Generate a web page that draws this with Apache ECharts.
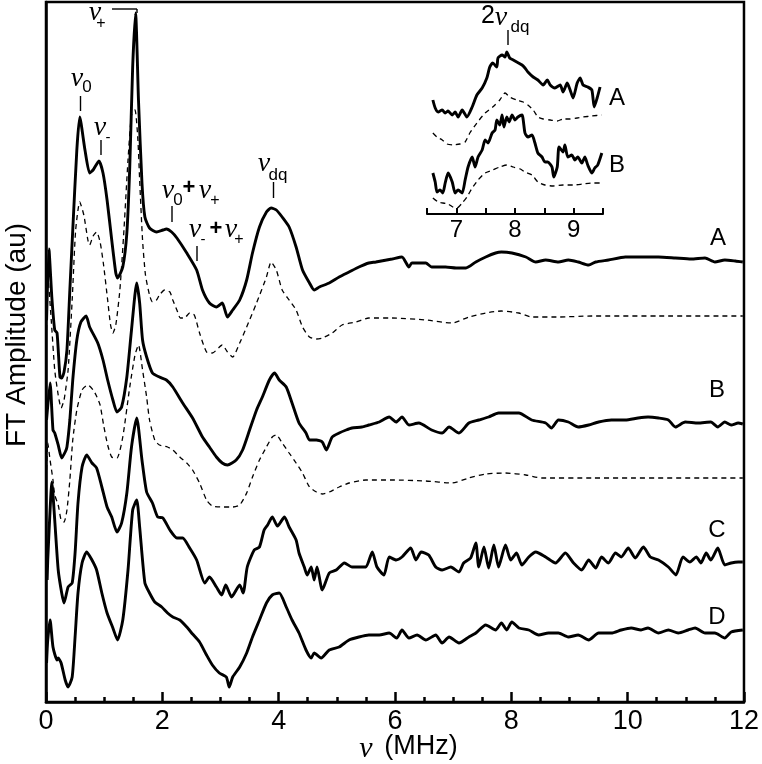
<!DOCTYPE html>
<html>
<head>
<meta charset="utf-8">
<script src="https://cdn.jsdelivr.net/npm/echarts/dist/echarts.min.js"></script>
<style>
  html, body { margin: 0; padding: 0; background: #fff; }
  #chart { width: 762px; height: 764px; }
</style>
</head>
<body>
<div id="chart"></div>
<script>
// spectra: [frequency (MHz), amplitude (au, stacked offsets included)]
var traceA = [[0.01,382],[0.05,453],[0.10,405],[0.15,372],[0.19,369],[0.24,325],[0.27,324],[0.31,330],[0.36,352],[0.41,412],[0.46,472],[0.53,552],[0.58,585],[0.67,552],[0.75,529],[0.81,532],[0.91,541],[0.98,529],[1.05,502],[1.13,462],[1.20,429],[1.23,424],[1.32,435],[1.39,469],[1.44,535],[1.49,635],[1.54,689],[1.59,602],[1.65,519],[1.70,485],[1.78,474],[1.90,470],[2.01,472],[2.07,473],[2.16,470],[2.25,464],[2.42,449],[2.59,432],[2.69,412],[2.81,399],[2.93,395],[3.03,399],[3.12,385],[3.21,392],[3.33,402],[3.45,422],[3.55,449],[3.67,475],[3.79,490],[3.87,494],[3.96,492],[4.06,485],[4.18,475],[4.30,455],[4.41,432],[4.53,419],[4.61,412],[4.70,415],[4.87,419],[5.04,425],[5.21,430],[5.38,435],[5.55,439],[5.67,440],[5.95,443],[6.12,445],[6.24,435],[6.29,439],[6.53,439],[6.63,435],[6.87,435],[7.05,434],[7.22,434],[7.39,440],[7.56,445],[7.73,449],[7.83,450],[8.01,449],[8.25,445],[8.42,440],[8.59,442],[8.81,440],[8.98,442],[9.15,440],[9.33,437],[9.45,440],[9.67,442],[9.96,445],[10.18,445],[10.35,445],[10.53,445],[10.82,444],[11.09,443],[11.33,444],[11.50,440],[11.67,442],[11.85,441],[11.98,440]];
var simA = [[0.01,372],[0.03,427],[0.09,382],[0.15,332],[0.21,307],[0.26,294],[0.31,302],[0.38,332],[0.45,402],[0.51,472],[0.58,500],[0.65,487],[0.72,462],[0.75,457],[0.81,466],[0.87,470],[0.93,460],[0.99,437],[1.06,402],[1.11,377],[1.15,369],[1.20,377],[1.27,412],[1.34,472],[1.41,542],[1.47,587],[1.53,592],[1.58,562],[1.61,522],[1.66,462],[1.71,427],[1.78,407],[1.83,400],[1.90,402],[1.95,407],[2.04,412],[2.13,410],[2.18,402],[2.25,392],[2.31,384],[2.38,384],[2.47,389],[2.55,387],[2.64,369],[2.76,350],[2.86,349],[3.03,357],[3.12,350],[3.21,345],[3.33,359],[3.45,375],[3.62,399],[3.79,425],[3.87,440],[3.96,432],[4.06,412],[4.18,402],[4.30,392],[4.41,375],[4.53,365],[4.65,363],[4.75,364],[4.92,369],[5.09,377],[5.33,380],[5.55,384],[5.95,384],[6.53,382],[6.98,379],[7.27,385],[7.56,389],[7.83,391],[8.13,389],[8.35,385],[8.81,385],[9.38,386],[10.53,386],[11.98,386]];
var traceB = [[0.01,282],[0.07,319],[0.12,272],[0.15,269],[0.21,257],[0.27,244],[0.33,250],[0.36,255],[0.41,282],[0.46,322],[0.53,362],[0.60,380],[0.69,386],[0.75,375],[0.89,359],[0.98,342],[1.06,322],[1.15,302],[1.22,290],[1.30,295],[1.39,325],[1.47,372],[1.56,419],[1.61,399],[1.66,362],[1.73,345],[1.83,329],[1.95,325],[2.07,322],[2.18,315],[2.35,299],[2.52,284],[2.69,265],[2.81,255],[2.93,245],[3.03,239],[3.12,237],[3.27,242],[3.38,252],[3.50,272],[3.62,292],[3.72,305],[3.84,322],[3.93,329],[4.01,322],[4.13,315],[4.23,299],[4.35,279],[4.47,269],[4.53,262],[4.65,262],[4.75,260],[4.82,252],[4.92,265],[5.04,269],[5.16,272],[5.26,274],[5.43,275],[5.55,277],[5.73,280],[5.90,285],[6.02,280],[6.12,285],[6.24,277],[6.41,279],[6.63,272],[6.81,269],[6.93,275],[7.10,269],[7.27,279],[7.44,282],[7.61,285],[7.78,289],[7.95,289],[8.13,289],[8.35,282],[8.59,279],[8.69,274],[8.81,282],[8.98,280],[9.15,275],[9.33,277],[9.50,280],[9.72,282],[9.96,282],[10.18,284],[10.35,285],[10.53,284],[10.70,282],[10.82,275],[10.99,280],[11.21,279],[11.43,280],[11.55,275],[11.67,280],[11.78,277],[11.90,279],[11.98,278]];
var simB = [[0.01,232],[0.03,259],[0.07,242],[0.12,222],[0.15,207],[0.21,197],[0.26,182],[0.31,180],[0.36,192],[0.41,222],[0.46,262],[0.53,292],[0.62,312],[0.72,317],[0.81,312],[0.86,307],[0.93,297],[0.99,277],[1.06,257],[1.13,245],[1.22,244],[1.32,265],[1.44,315],[1.53,347],[1.59,357],[1.66,332],[1.73,305],[1.78,282],[1.87,262],[1.95,257],[2.09,255],[2.18,252],[2.30,245],[2.42,239],[2.52,232],[2.64,219],[2.76,202],[2.86,196],[3.03,195],[3.21,195],[3.33,197],[3.45,209],[3.55,225],[3.67,242],[3.79,255],[3.89,265],[3.96,267],[4.06,259],[4.18,249],[4.30,239],[4.41,229],[4.53,215],[4.65,210],[4.75,208],[4.87,210],[5.04,215],[5.21,219],[5.50,222],[5.95,222],[6.53,221],[6.98,219],[7.27,224],[7.56,228],[7.90,229],[8.25,227],[8.52,224],[9.38,224],[11.98,224]];
var traceC = [[0.02,122],[0.03,142],[0.07,192],[0.10,220],[0.15,182],[0.21,132],[0.27,109],[0.31,99],[0.38,115],[0.45,119],[0.50,149],[0.55,199],[0.62,235],[0.70,247],[0.79,239],[0.87,234],[0.96,215],[1.05,195],[1.13,185],[1.22,170],[1.30,179],[1.39,209],[1.47,255],[1.56,284],[1.65,242],[1.73,210],[1.83,199],[1.92,185],[2.01,184],[2.13,172],[2.25,164],[2.35,164],[2.47,154],[2.59,142],[2.73,119],[2.81,125],[2.93,115],[3.02,107],[3.09,117],[3.19,105],[3.33,117],[3.39,109],[3.46,135],[3.58,152],[3.67,155],[3.75,172],[3.81,177],[3.89,185],[3.98,176],[4.10,185],[4.18,175],[4.30,162],[4.35,149],[4.44,135],[4.49,127],[4.56,135],[4.61,122],[4.66,135],[4.75,112],[4.87,129],[4.99,132],[5.13,139],[5.26,135],[5.42,135],[5.50,135],[5.61,150],[5.69,135],[5.81,127],[5.90,145],[6.02,142],[6.12,145],[6.27,154],[6.36,142],[6.45,150],[6.58,147],[6.70,135],[6.81,132],[6.96,135],[7.10,130],[7.18,139],[7.30,144],[7.39,159],[7.44,135],[7.53,155],[7.61,134],[7.70,157],[7.78,135],[7.90,157],[7.99,142],[8.09,149],[8.18,137],[8.30,145],[8.42,150],[8.59,145],[8.76,139],[8.93,149],[9.07,139],[9.21,132],[9.33,142],[9.45,134],[9.55,145],[9.67,139],[9.79,149],[9.89,145],[10.01,154],[10.13,144],[10.27,155],[10.39,145],[10.53,142],[10.70,135],[10.83,127],[10.95,145],[11.07,140],[11.18,145],[11.26,139],[11.35,149],[11.43,142],[11.55,154],[11.67,137],[11.78,139],[11.90,140],[11.98,140]];
var traceD = [[0.01,39],[0.03,62],[0.07,82],[0.12,55],[0.19,42],[0.21,44],[0.26,39],[0.33,22],[0.38,15],[0.45,25],[0.50,65],[0.55,109],[0.62,139],[0.70,150],[0.79,142],[0.87,132],[0.96,109],[1.05,89],[1.15,74],[1.23,62],[1.32,82],[1.41,132],[1.49,192],[1.56,202],[1.61,175],[1.70,119],[1.78,109],[1.87,100],[1.99,95],[2.09,89],[2.18,85],[2.30,82],[2.42,75],[2.52,68],[2.64,60],[2.76,47],[2.86,37],[2.98,29],[3.10,25],[3.15,15],[3.21,25],[3.33,35],[3.45,49],[3.55,65],[3.67,82],[3.79,99],[3.89,107],[4.01,109],[4.13,95],[4.23,82],[4.35,69],[4.47,52],[4.56,44],[4.61,49],[4.73,44],[4.87,52],[5.04,55],[5.21,62],[5.38,65],[5.55,67],[5.73,67],[5.90,69],[6.03,64],[6.12,72],[6.24,64],[6.38,67],[6.53,62],[6.70,67],[6.81,59],[6.93,65],[7.10,59],[7.27,65],[7.39,69],[7.56,77],[7.73,72],[7.83,79],[7.92,72],[8.01,80],[8.13,74],[8.30,72],[8.47,67],[8.64,69],[8.81,69],[8.98,65],[9.15,67],[9.33,62],[9.50,69],[9.72,69],[9.89,72],[10.06,74],[10.23,72],[10.35,74],[10.53,69],[10.70,72],[10.87,69],[11.04,72],[11.16,74],[11.33,69],[11.50,69],[11.67,64],[11.78,70],[11.98,72]];

// inset (2 nu_dq region)
var insetA = [[6.60,114],[6.64,106],[6.69,102],[6.76,104],[6.81,101],[6.86,103],[6.93,99],[6.98,102],[7.03,97],[7.10,104],[7.18,97],[7.27,107],[7.35,119],[7.44,126],[7.52,136],[7.57,147],[7.62,151],[7.69,147],[7.71,156],[7.78,159],[7.83,157],[7.86,162],[7.91,156],[7.97,154],[8.03,152],[8.12,149],[8.17,146],[8.22,142],[8.31,137],[8.39,134],[8.48,129],[8.55,134],[8.60,129],[8.68,126],[8.77,129],[8.82,122],[8.89,131],[8.94,124],[8.99,116],[9.06,131],[9.11,136],[9.16,129],[9.24,127],[9.31,124],[9.35,107],[9.40,116],[9.45,127]];
var insetSimA = [[6.60,81],[6.67,77],[6.76,74],[6.84,70],[6.94,69],[7.06,70],[7.15,72],[7.23,81],[7.35,91],[7.49,101],[7.62,107],[7.74,114],[7.83,121],[7.91,117],[8.03,114],[8.14,112],[8.22,109],[8.31,104],[8.39,97],[8.48,95],[8.60,94],[8.72,93],[8.82,95],[8.94,95],[9.06,96],[9.16,97],[9.31,98],[9.48,99]];
var insetB = [[6.60,41],[6.64,32],[6.67,22],[6.72,24],[6.77,21],[6.81,31],[6.86,41],[6.93,32],[6.98,21],[7.03,24],[7.10,21],[7.15,34],[7.20,47],[7.27,57],[7.32,47],[7.37,57],[7.44,64],[7.49,74],[7.54,71],[7.61,81],[7.66,84],[7.69,94],[7.74,89],[7.78,99],[7.81,87],[7.86,97],[7.90,92],[7.95,99],[8.00,94],[8.05,97],[8.12,99],[8.17,81],[8.22,77],[8.29,79],[8.34,71],[8.39,61],[8.46,57],[8.51,52],[8.56,52],[8.63,47],[8.66,37],[8.72,47],[8.75,67],[8.82,62],[8.85,69],[8.90,57],[8.97,59],[9.02,54],[9.07,57],[9.14,51],[9.19,57],[9.24,49],[9.31,41],[9.36,46],[9.41,49],[9.48,61]];
var insetSimB = [[6.60,16],[6.69,12],[6.77,11],[6.86,10],[6.94,7],[7.01,6],[7.10,11],[7.18,17],[7.27,26],[7.37,34],[7.49,41],[7.62,44],[7.74,47],[7.86,49],[7.97,47],[8.09,45],[8.17,42],[8.29,39],[8.39,32],[8.51,29],[8.65,28],[8.82,29],[8.99,29],[9.16,30],[9.33,31],[9.48,31]];

var SANS = '"Liberation Sans", Arial, sans-serif';
var SERIF = '"Liberation Serif", "Times New Roman", serif';

function solid(data, idx) {
  return { type: 'line', xAxisIndex: idx, yAxisIndex: idx, data: data, showSymbol: false,
    smooth: 0.2, silent: true, lineStyle: { color: '#000', width: 2.9 } };
}
function dashed(data, idx) {
  return { type: 'line', xAxisIndex: idx, yAxisIndex: idx, data: data, showSymbol: false,
    smooth: 0.2, silent: true, lineStyle: { color: '#000', width: 1.3, type: [5, 4] } };
}
// annotation text
function txt(x, y, s, size, opt) {
  opt = opt || {};
  return { type: 'text', x: x, y: y, rotation: opt.rot || 0, z: 100,
    style: { text: s, fill: '#000',
      font: (opt.it ? 'italic ' : '') + (opt.bold ? 'bold ' : '') + size + 'px ' + (opt.serif ? SERIF : SANS),
      align: 'center', verticalAlign: 'middle', textAlign: 'center', textVerticalAlign: 'middle' } };
}
function seg(x1, y1, x2, y2) {
  return { type: 'line', z: 100, shape: { x1: x1, y1: y1, x2: x2, y2: y2 },
    style: { stroke: '#000', lineWidth: 1.4 } };
}

var chart = echarts.init(document.getElementById('chart'));
chart.setOption({
  animation: false,
  grid: [
    { left: 46, right: 16, top: 2, bottom: 62, show: true, borderColor: '#000', borderWidth: 2.5 },
    { left: 427, right: 159, top: 30, bottom: 550 }
  ],
  xAxis: [
    { type: 'value', gridIndex: 0, min: 0, max: 12, interval: 2,
      axisLine: { lineStyle: { color: '#000', width: 2.5 } },
      axisTick: { inside: true, length: 10, lineStyle: { color: '#000', width: 2.5 } },
      minorTick: { show: true, splitNumber: 4, length: 5, lineStyle: { color: '#000', width: 2.5 } },
      splitLine: { show: false },
      axisLabel: { color: '#000', fontSize: 27, fontFamily: SANS, margin: 6 } },
    { type: 'value', gridIndex: 1, min: 6.5, max: 9.5, interval: 0.5,
      axisLine: { lineStyle: { color: '#000', width: 2 } },
      axisTick: { inside: true, length: 6, lineStyle: { color: '#000', width: 2 } },
      splitLine: { show: false },
      axisLabel: { color: '#000', fontSize: 24, fontFamily: SANS, margin: 4, showMinLabel: true, showMaxLabel: true,
        formatter: function (v) { return v % 1 === 0 ? String(v) : ''; } } }
  ],
  yAxis: [
    { type: 'value', gridIndex: 0, min: 0, max: 700,
      axisLine: { show: true, lineStyle: { color: '#000', width: 2.5 } },
      axisTick: { show: false }, axisLabel: { show: false }, splitLine: { show: false } },
    { type: 'value', gridIndex: 1, min: 0, max: 184, show: false, splitLine: { show: false } }
  ],
  series: [
    solid(traceA, 0), dashed(simA, 0), solid(traceB, 0), dashed(simB, 0), solid(traceC, 0), solid(traceD, 0),
    solid(insetA, 1), dashed(insetSimA, 1), solid(insetB, 1), dashed(insetSimB, 1)
  ],
  graphic: [
    // axis titles
    txt(17, 335, 'FT Amplitude (au)', 28, { rot: Math.PI / 2 }),
    txt(366, 749, 'ν', 30, { it: true, serif: true }),
    txt(421, 747, '(MHz)', 27),
    // trace labels
    txt(718, 238, 'A', 24), txt(717, 390, 'B', 24), txt(717, 530, 'C', 24), txt(717, 617, 'D', 24),
    txt(617, 98, 'A', 24), txt(617, 165, 'B', 24),
    // nu+
    txt(95, 13, 'ν', 28, { it: true, serif: true }), txt(101, 24, '+', 16),
    seg(112, 9, 137, 9), seg(137, 9, 137, 13),
    // nu0
    txt(77, 79, 'ν', 28, { it: true, serif: true }), txt(87, 87, '0', 17), seg(80.5, 96, 80.5, 111),
    // nu-
    txt(100, 128, 'ν', 28, { it: true, serif: true }), txt(108, 138, '-', 15), seg(101, 140, 101, 155),
    // nu0 + nu+
    txt(168, 191, 'ν', 28, { it: true, serif: true }), txt(178, 200, '0', 17), txt(189, 188, '+', 22, { bold: true }),
    txt(205, 191, 'ν', 28, { it: true, serif: true }), txt(215, 201, '+', 16), seg(172, 206, 172, 222),
    // nu- + nu+
    txt(195, 230, 'ν', 28, { it: true, serif: true }), txt(203, 240, '-', 15), txt(216, 229, '+', 22, { bold: true }),
    txt(231, 230, 'ν', 28, { it: true, serif: true }), txt(239, 240, '+', 16), seg(197, 246, 197, 261),
    // nu_dq
    txt(264, 164, 'ν', 28, { it: true, serif: true }), txt(278, 175, 'dq', 17), seg(273.5, 182, 273.5, 198),
    // 2 nu_dq
    txt(488, 16, '2', 25), txt(501, 18, 'ν', 28, { it: true, serif: true }), txt(520, 27, 'dq', 17),
    seg(508, 30, 508, 45)
  ]
});
</script>
</body>
</html>
